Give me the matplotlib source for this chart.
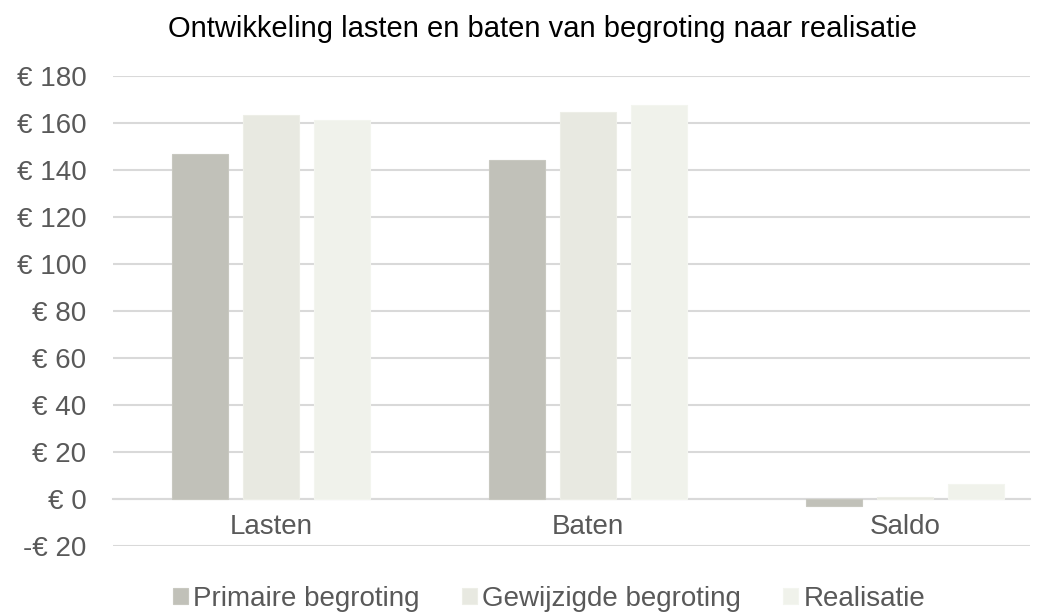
import matplotlib.pyplot as plt
import numpy as np

plt.rcParams['font.family'] = ['Liberation Sans', 'DejaVu Sans']

categories = ['Lasten', 'Baten', 'Saldo']
series_names = ['Primaire begroting', 'Gewijzigde begroting', 'Realisatie']
primaire = [146.8, 144.3, -2.8]
gewijzigd = [163.6, 164.5, 0.7]
realisatie = [161.1, 167.8, 6.4]
yticks = [-20, 0, 20, 40, 60, 80, 100, 120, 140, 160, 180]

colors = ['#C1C1B9', '#E8E9E1', '#F0F2EB']
edges = ['#C8C8C0', '#EDEEE7', '#F3F5EF']
txt = '#595959'

fig = plt.figure(figsize=(10.56, 6.12), dpi=100)
ax = fig.add_axes([113 / 1056, 1 - 546 / 612, (1030 - 113) / 1056, (546 - 76) / 612])

x = np.arange(len(categories))
w = 0.177
step = 0.223
for i, (vals, name) in enumerate(zip([primaire, gewijzigd, realisatie], series_names)):
    ax.bar(x + (i - 1) * step, vals, w, color=colors[i], edgecolor=edges[i],
           linewidth=0.8, label=name, zorder=3)

ax.set_xlim(-0.498, 2.394)
ax.set_ylim(-20, 180)
ax.set_yticks(yticks)
ax.set_yticklabels([('-€ %d' % -v) if v < 0 else '€ %d' % v for v in yticks])
ax.yaxis.grid(True, color='#D9D9D9', linewidth=1.5, zorder=0)
ax.tick_params(axis='y', length=0, labelsize=20, labelcolor=txt, pad=19)

ax.spines['bottom'].set_position(('data', 0))
ax.spines['bottom'].set_color('#D9D9D9')
ax.spines['bottom'].set_linewidth(1.5)
for s in ['top', 'right', 'left']:
    ax.spines[s].set_visible(False)
ax.set_xticks(x)
ax.set_xticklabels(categories)
ax.tick_params(axis='x', length=0, labelsize=20, labelcolor=txt, pad=11)

fig.text(542 / 1056, 1 - 37 / 612, 'Ontwikkeling lasten en baten van begroting naar realisatie',
         ha='center', va='baseline', fontsize=21, color='black')

leg = fig.legend(loc='center', bbox_to_anchor=(549 / 1056, 1 - 599 / 612), ncol=3, frameon=False,
                 fontsize=20, handlelength=0.55, handleheight=0.5, handletextpad=0.2,
                 columnspacing=1.5, labelcolor=txt, borderpad=0)

fig.savefig('out.png', dpi=100)
